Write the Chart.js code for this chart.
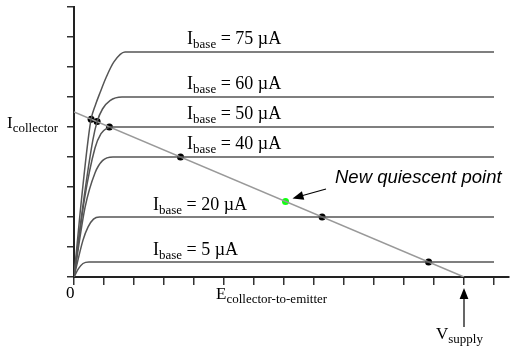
<!DOCTYPE html>
<html lang="en">
<head>
<meta charset="UTF-8">
<title>Transistor characteristic curves with load line</title>
<script src="https://cdn.jsdelivr.net/npm/chart.js"></script>
<style>
  body { margin: 0; padding: 0; background: #fff; }
</style>
</head>
<body>
<canvas id="chart" width="517" height="348"></canvas>
<script>
// base currents (uA) and where each curve levels off (collector current units)
const baseCurrents = [75, 60, 50, 40, 20, 5];
const curveLevels = [7.5, 6, 5, 4, 2, 0.5];

// points: [E collector-to-emitter, I collector]
const curve75 = [[0,0],[0.2,2.1],[0.47,4.57],[0.57,5.26],[0.72,5.75],[0.87,6.15],[1.07,6.65],[1.33,7.17],[1.7,7.5],[14,7.5]];
const curve60 = [[0,0],[0.3,2.4],[0.63,4.57],[0.77,5.18],[0.95,5.6],[1.2,5.88],[1.6,6.0],[14,6]];
const curve50 = [[0,0],[0.35,2.6],[0.7,4.3],[0.9,4.78],[1.1,4.96],[1.3,5.0],[14,5]];
const curve40 = [[0,0],[0.37,2.33],[0.7,3.47],[0.95,3.88],[1.3,4.0],[14,4]];
const curve20 = [[0,0],[0.3,1.23],[0.47,1.67],[0.65,1.93],[0.85,2.0],[14,2]];
const curve5  = [[0,0],[0.15,0.28],[0.3,0.45],[0.5,0.5],[14,0.5]];
const curves = [curve75, curve60, curve50, curve40, curve20, curve5];

// load line from Ic(sat) down to Vsupply
const vSupply = 13;
const loadLine = [[0,5.5],[vSupply,0]];
const operatingPoints = [[0.57,5.26],[0.77,5.18],[1.18,5.0],[3.55,4.0],[8.27,2.0],[11.82,0.5]];
const newQuiescent = [[7.05,2.52]];

const xTicks = [0,1,2,3,4,5,6,7,8,9,10,11,12,13,14];
const yTicks = [0,1,2,3,4,5,6,7,8,9];

const toXY = arr => arr.map(p => ({x: p[0], y: p[1]}));

const datasets = curves.map(c => ({
  data: toXY(c),
  showLine: true,
  borderColor: '#555',
  borderWidth: 1.5,
  pointRadius: 0,
  cubicInterpolationMode: 'monotone'
}));
datasets.push({
  data: toXY(loadLine), showLine: true, borderColor: '#999', borderWidth: 1.5, pointRadius: 0
});
datasets.push({
  data: toXY(operatingPoints), showLine: false, pointRadius: 3.5, pointBackgroundColor: '#000', pointBorderColor: '#000', pointBorderWidth: 0
});
datasets.push({
  data: toXY(newQuiescent), showLine: false, pointRadius: 3.5, pointBackgroundColor: '#11ff11', pointBorderColor: '#11ff11', pointBorderWidth: 0
});

const SERIF = '"Liberation Serif", "Times New Roman", serif';

// draws "main" + subscript + rest, left aligned at x, baseline y
function subText(ctx, x, y, main, sub, rest, size, subSize) {
  ctx.font = size + 'px ' + SERIF;
  ctx.fillText(main, x, y);
  let w = ctx.measureText(main).width;
  ctx.font = subSize + 'px ' + SERIF;
  ctx.fillText(sub, x + w, y + 4);
  w += ctx.measureText(sub).width;
  if (rest) {
    ctx.font = size + 'px ' + SERIF;
    ctx.fillText(rest, x + w, y);
  }
}

function arrow(ctx, x1, y1, x2, y2, head) {
  const a = Math.atan2(y2 - y1, x2 - x1);
  ctx.beginPath();
  ctx.moveTo(x1, y1);
  ctx.lineTo(x2 - Math.cos(a) * head * 0.8, y2 - Math.sin(a) * head * 0.8);
  ctx.stroke();
  ctx.beginPath();
  ctx.moveTo(x2, y2);
  ctx.lineTo(x2 - head * Math.cos(a) + head * 0.4 * Math.sin(a), y2 - head * Math.sin(a) - head * 0.4 * Math.cos(a));
  ctx.lineTo(x2 - head * Math.cos(a) - head * 0.4 * Math.sin(a), y2 - head * Math.sin(a) + head * 0.4 * Math.cos(a));
  ctx.closePath();
  ctx.fill();
}

const labelPlugin = {
  id: 'labels',
  afterDraw(chart) {
    const ctx = chart.ctx;
    const xs = chart.scales.x, ys = chart.scales.y;
    ctx.save();
    ctx.fillStyle = '#000';
    ctx.strokeStyle = '#000';
    ctx.textBaseline = 'alphabetic';
    ctx.textAlign = 'left';

    // curve labels
    baseCurrents.forEach((ib, i) => {
      const lx = ib >= 40 ? xs.getPixelForValue(3.77) : xs.getPixelForValue(2.63);
      const ly = ys.getPixelForValue(curveLevels[i]) - (ib >= 40 ? 8 : 7);
      subText(ctx, lx, ly, 'I', 'base', ' = ' + ib + ' \u00b5A', 18, 13);
    });

    // axis labels
    subText(ctx, 7, 128, 'I', 'collector', '', 17, 13);
    ctx.font = '17px ' + SERIF;
    ctx.fillText('0', 66, 298);
    subText(ctx, 216, 299, 'E', 'collector-to-emitter', '', 17, 13);
    subText(ctx, 436, 339, 'V', 'supply', '', 17, 13);

    // Vsupply arrow
    ctx.lineWidth = 1.2;
    const vx = xs.getPixelForValue(vSupply);
    arrow(ctx, vx, 327, vx, 288, 11);

    // new quiescent point note
    ctx.font = 'italic 18.5px "Liberation Sans", Arial, sans-serif';
    ctx.fillText('New quiescent point', 335, 183);
    const qx = xs.getPixelForValue(newQuiescent[0][0]);
    const qy = ys.getPixelForValue(newQuiescent[0][1]);
    arrow(ctx, 326, 189, qx + 7, qy - 3, 11);
    ctx.restore();
  }
};

new Chart(document.getElementById('chart'), {
  type: 'scatter',
  data: { datasets },
  options: {
    responsive: false,
    animation: false,
    devicePixelRatio: 1,
    layout: { padding: { top: 7, right: 8, left: 0, bottom: 0 } },
    plugins: { legend: { display: false }, tooltip: { enabled: false } },
    scales: {
      x: {
        type: 'linear', min: 0, max: 14.5,
        afterBuildTicks: s => { s.ticks = xTicks.map(v => ({ value: v })); },
        afterFit: s => { s.height = 71; },
        ticks: { display: false },
        grid: { drawOnChartArea: false, drawTicks: true, tickLength: 8, color: '#333', lineWidth: 1.5 },
        border: { color: '#222', width: 2 }
      },
      y: {
        type: 'linear', min: 0, max: 9,
        afterBuildTicks: s => { s.ticks = yTicks.map(v => ({ value: v })); },
        afterFit: s => { s.width = 74; },
        ticks: { display: false },
        grid: { drawOnChartArea: false, drawTicks: true, tickLength: 7, color: '#333', lineWidth: 1.5 },
        border: { color: '#222', width: 2 }
      }
    }
  },
  plugins: [labelPlugin]
});
</script>
</body>
</html>
